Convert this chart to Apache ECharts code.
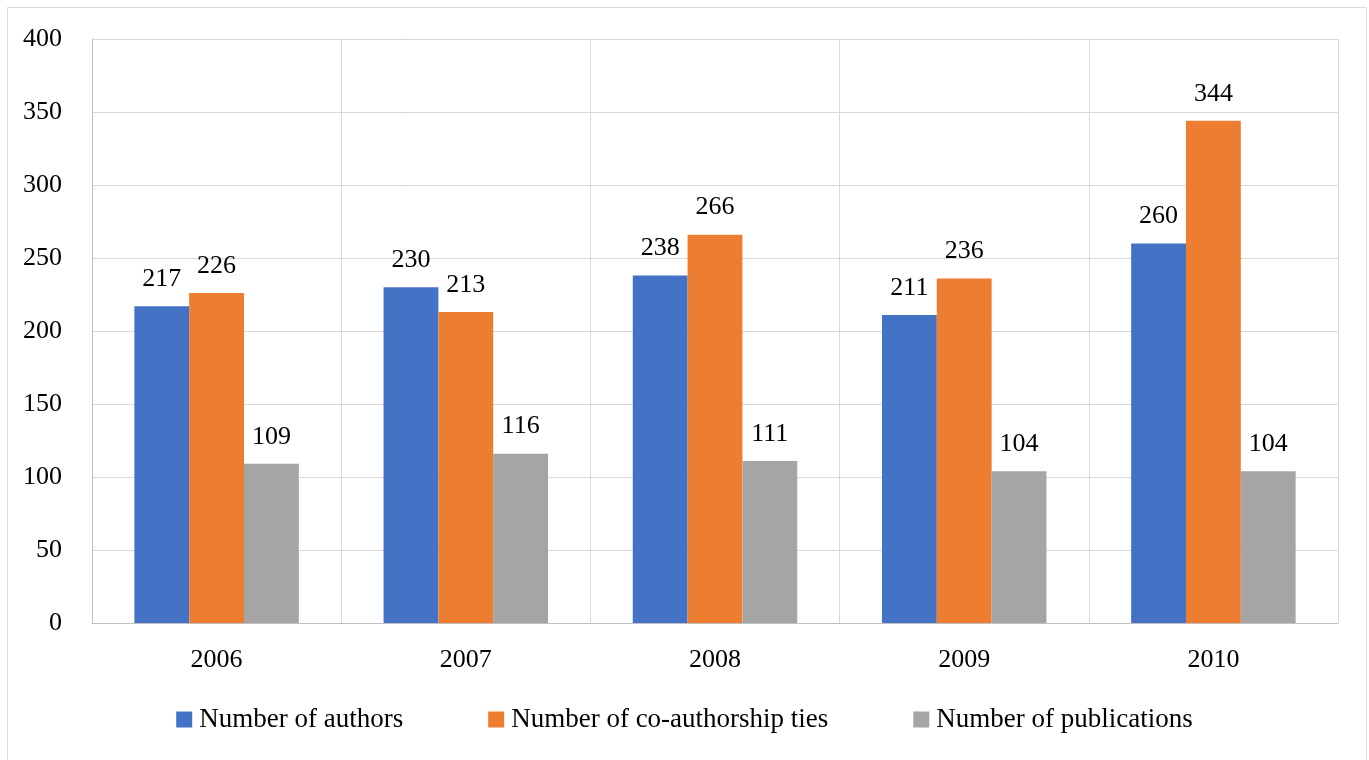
<!DOCTYPE html>
<html>
<head>
<meta charset="utf-8">
<script src="https://cdn.jsdelivr.net/npm/echarts@6/dist/echarts.min.js"></script>
<style>
  html, body { margin: 0; padding: 0; background: #fff; }
  #chart { width: 1369px; height: 760px; }
</style>
</head>
<body>
<div id="chart"></div>
<script>
const years = ['2006', '2007', '2008', '2009', '2010'];
const authors = [217, 230, 238, 211, 260];
const coauthorTies = [226, 213, 266, 236, 344];
const publications = [109, 116, 111, 104, 104];
const seriesNames = ['Number of authors', 'Number of co-authorship ties', 'Number of publications'];
const seriesColors = ['#4472C4', '#ED7D31', '#A5A5A5'];

const FONT = 'Liberation Serif';

const chart = echarts.init(document.getElementById('chart'), null, { renderer: 'canvas' });

function barSeries(name, data, color) {
  return {
    name: name,
    type: 'bar',
    data: data,
    barGap: '0%',
    barCategoryGap: '34%',
    itemStyle: { color: color },
    label: {
      show: true,
      position: 'top',
      distance: 14,
      color: '#000',
      fontFamily: FONT,
      fontSize: 26
    }
  };
}

chart.setOption({
  animation: false,
  textStyle: { fontFamily: FONT },
  graphic: [{
    type: 'rect',
    shape: { x: 7.5, y: 7.5, width: 1359, height: 770 },
    style: { fill: 'none', stroke: '#d9d9d9', lineWidth: 1 },
    silent: true
  }],
  grid: { left: 92, right: 31, top: 39, bottom: 137 },
  legend: {
    bottom: 22,
    left: 'center',
    itemWidth: 16,
    itemHeight: 16,
    itemGap: 85,
    icon: 'rect',
    textStyle: { fontFamily: FONT, fontSize: 27, color: '#000', padding: [0, 0, 0, 2] },
    data: seriesNames
  },
  xAxis: {
    type: 'category',
    data: years,
    axisLine: { show: true, lineStyle: { color: '#bfbfbf', width: 1 } },
    axisTick: { show: false },
    splitLine: { show: true, lineStyle: { color: '#d9d9d9', width: 1 } },
    axisLabel: { color: '#000', fontFamily: FONT, fontSize: 26, margin: 24 }
  },
  yAxis: {
    type: 'value',
    min: 0,
    max: 400,
    interval: 50,
    axisLine: { show: true, lineStyle: { color: '#bfbfbf', width: 1 } },
    axisTick: { show: false },
    splitLine: { show: true, lineStyle: { color: '#d9d9d9', width: 1 } },
    axisLabel: { color: '#000', fontFamily: FONT, fontSize: 26, margin: 30 }
  },
  series: [
    barSeries(seriesNames[0], authors, seriesColors[0]),
    barSeries(seriesNames[1], coauthorTies, seriesColors[1]),
    barSeries(seriesNames[2], publications, seriesColors[2])
  ]
});
</script>
</body>
</html>
